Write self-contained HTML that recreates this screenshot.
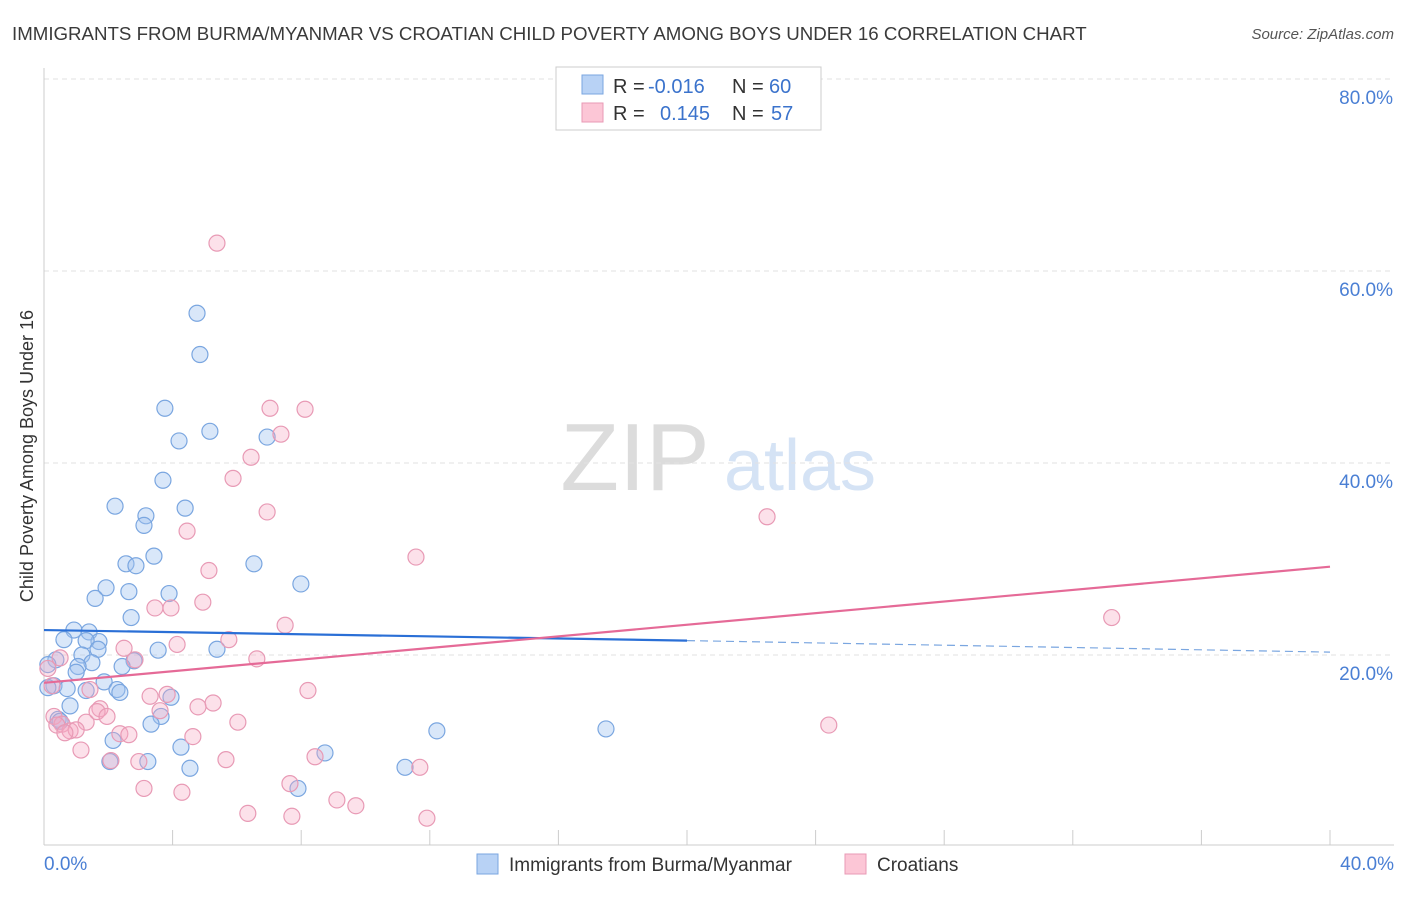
<!DOCTYPE html>
<html><head><meta charset="utf-8">
<style>
body{margin:0;background:#fff;font-family:"Liberation Sans",sans-serif;}
svg text{font-family:"Liberation Sans",sans-serif;}
</style></head>
<body>
<svg id="chart" width="1406" height="892" xmlns="http://www.w3.org/2000/svg">
<text x="12" y="40" font-size="18.7" fill="#3a3a3a">IMMIGRANTS FROM BURMA/MYANMAR VS CROATIAN CHILD POVERTY AMONG BOYS UNDER 16 CORRELATION CHART</text>
<text x="1394" y="39" font-size="15" fill="#555" text-anchor="end" font-style="italic">Source: ZipAtlas.com</text>
<g>
<text x="635" y="490" font-size="96" fill="#dcdcdc" text-anchor="middle" font-family="Liberation Serif, serif">ZIP</text>
<text x="800" y="490" font-size="72" fill="#d5e3f5" text-anchor="middle">atlas</text>
</g>
<g id="grid"></g>
<g id="axes"></g>
<g id="marks"></g>
<g>
<rect x="556" y="67" width="265" height="63" fill="#fff" stroke="#ccc"/>
<rect x="582" y="75" width="21" height="19" fill="#b8d2f5" stroke="#7aa6e0"/>
<rect x="582" y="103" width="21" height="19" fill="#fcc6d6" stroke="#e89ab5"/>
<text x="613" y="93" font-size="20" fill="#333">R = </text>
<text x="648" y="93" font-size="20" fill="#3b73cc">-0.016</text>
<text x="732" y="93" font-size="20" fill="#333">N = </text>
<text x="769" y="93" font-size="20" fill="#3b73cc">60</text>
<text x="613" y="120" font-size="20" fill="#333">R = </text>
<text x="660" y="120" font-size="20" fill="#3b73cc">0.145</text>
<text x="732" y="120" font-size="20" fill="#333">N = </text>
<text x="771" y="120" font-size="20" fill="#3b73cc">57</text>
</g>
<g>
<rect x="477" y="854" width="21" height="20" fill="#b8d2f5" stroke="#7aa6e0"/>
<text x="509" y="871" font-size="19" fill="#333">Immigrants from Burma/Myanmar</text>
<rect x="845" y="854" width="21" height="20" fill="#fcc6d6" stroke="#e89ab5"/>
<text x="877" y="871" font-size="19" fill="#333">Croatians</text>
</g>
<text transform="translate(33,456) rotate(-90)" font-size="18" fill="#333" text-anchor="middle">Child Poverty Among Boys Under 16</text>
</svg>
<script>
const blueX=[4.76,4.85,3.76,4.20,5.16,6.94,3.70,2.21,3.17,3.11,4.39,3.42,2.55,2.86,6.53,7.99,1.93,1.59,2.64,3.89,2.71,0.93,1.40,0.62,1.71,1.31,1.68,3.55,5.38,1.18,2.80,0.37,0.12,1.49,1.06,2.43,1.00,1.87,0.31,0.12,0.72,1.31,2.27,2.36,3.95,0.81,0.44,0.50,3.64,3.33,12.22,17.48,2.15,4.26,8.74,2.05,3.23,4.54,11.23,7.90];
const blueY=[55.6,51.3,45.7,42.3,43.3,42.7,38.2,35.5,34.5,33.5,35.3,30.3,29.5,29.3,29.5,27.4,27.0,25.9,26.6,26.4,23.9,22.6,22.4,21.6,21.4,21.5,20.6,20.5,20.6,20.0,19.4,19.5,19.0,19.2,18.8,18.8,18.2,17.2,16.8,16.6,16.5,16.3,16.4,16.1,15.6,14.7,13.3,13.1,13.6,12.8,12.1,12.3,11.1,10.4,9.8,8.9,8.9,8.2,8.3,6.1];
const pinkX=[5.38,7.03,8.12,7.37,6.44,5.88,6.94,22.49,4.45,11.57,5.13,4.94,3.45,3.95,7.50,4.14,5.75,2.49,2.83,6.62,33.21,0.50,0.12,0.25,1.43,8.21,3.30,3.83,5.26,4.79,1.74,3.61,1.65,1.96,0.31,6.03,1.31,0.56,0.40,0.81,1.00,0.65,2.36,2.64,4.63,24.41,1.15,5.66,2.95,8.43,2.08,11.69,7.65,3.11,4.29,9.11,9.70,6.34,7.71,11.91];
const pinkY=[62.9,45.7,45.6,43.0,40.6,38.4,34.9,34.4,32.9,30.2,28.8,25.5,24.9,24.9,23.1,21.1,21.6,20.7,19.5,19.6,23.9,19.7,18.6,16.8,16.4,16.3,15.7,15.9,15.0,14.6,14.4,14.2,14.1,13.6,13.6,13.0,13.0,12.8,12.7,12.1,12.2,11.9,11.8,11.7,11.5,12.7,10.1,9.1,8.9,9.4,9.0,8.3,6.6,6.1,5.7,4.9,4.3,3.5,3.2,3.0];
const blueTrend=[22.6,21.5,20.3];
const pinkTrend=[17.1,29.2];
const yTicks=[20,40,60,80];
const yTickLabels=["20.0%","40.0%","60.0%","80.0%"];
const xTicks=[0,4,8,12,16,20,24,28,32,36,40];
const xTickLabels=["0.0%","40.0%"];

const NS="http://www.w3.org/2000/svg";
const sx=v=>44+v/40*1286;
const sy=v=>847-v/20*192;
function mk(tag,attrs,parent){const e=document.createElementNS(NS,tag);for(const k in attrs)e.setAttribute(k,attrs[k]);document.getElementById(parent).appendChild(e);return e;}

yTicks.forEach((t,i)=>{
  const g=mk('line',{x1:44,x2:1394,y1:sy(t),y2:sy(t),stroke:'#e2e2e2','stroke-dasharray':'5,4'},'grid');
  
  
  const l=mk('text',{x:1393,y:sy(t)+25,'font-size':19,fill:'#4a7fd4','text-anchor':'end'},'axes');
  l.textContent=yTickLabels[i];
  
  
});
let a=mk('line',{x1:44,x2:44,y1:68,y2:845,stroke:'#ccc'},'axes');


a=mk('line',{x1:44,x2:1394,y1:845,y2:845,stroke:'#ccc'},'axes');


xTicks.forEach(t=>{
  const k=mk('line',{x1:sx(t),x2:sx(t),y1:830,y2:845,stroke:'#ccc'},'axes');
  
  
});
let xl=mk('text',{x:44,y:870,'font-size':19,fill:'#4a7fd4'},'axes');xl.textContent=xTickLabels[0];


xl=mk('text',{x:1394,y:870,'font-size':19,fill:'#4a7fd4','text-anchor':'end'},'axes');xl.textContent=xTickLabels[1];



blueX.forEach((x,i)=>{
  const c=mk('circle',{cx:sx(x),cy:sy(blueY[i]),r:8,fill:'rgba(160,196,240,0.4)',stroke:'#7aa6e0','stroke-width':1.2},'marks');
  
  
});
pinkX.forEach((x,i)=>{
  const c=mk('circle',{cx:sx(x),cy:sy(pinkY[i]),r:8,fill:'rgba(245,170,195,0.35)',stroke:'#e89ab5','stroke-width':1.2},'marks');
  
  
});
let tl=mk('line',{x1:sx(0),y1:sy(blueTrend[0]),x2:sx(20),y2:sy(blueTrend[1]),stroke:'#2a6fd6','stroke-width':2.2},'marks');


tl=mk('line',{x1:sx(20),y1:sy(blueTrend[1]),x2:sx(40),y2:sy(blueTrend[2]),stroke:'#7aa6e0','stroke-width':1.2,'stroke-dasharray':'8,5'},'marks');


tl=mk('line',{x1:sx(0),y1:sy(pinkTrend[0]),x2:sx(40),y2:sy(pinkTrend[1]),stroke:'#e56a97','stroke-width':2.2},'marks');


</script>
</body></html>
